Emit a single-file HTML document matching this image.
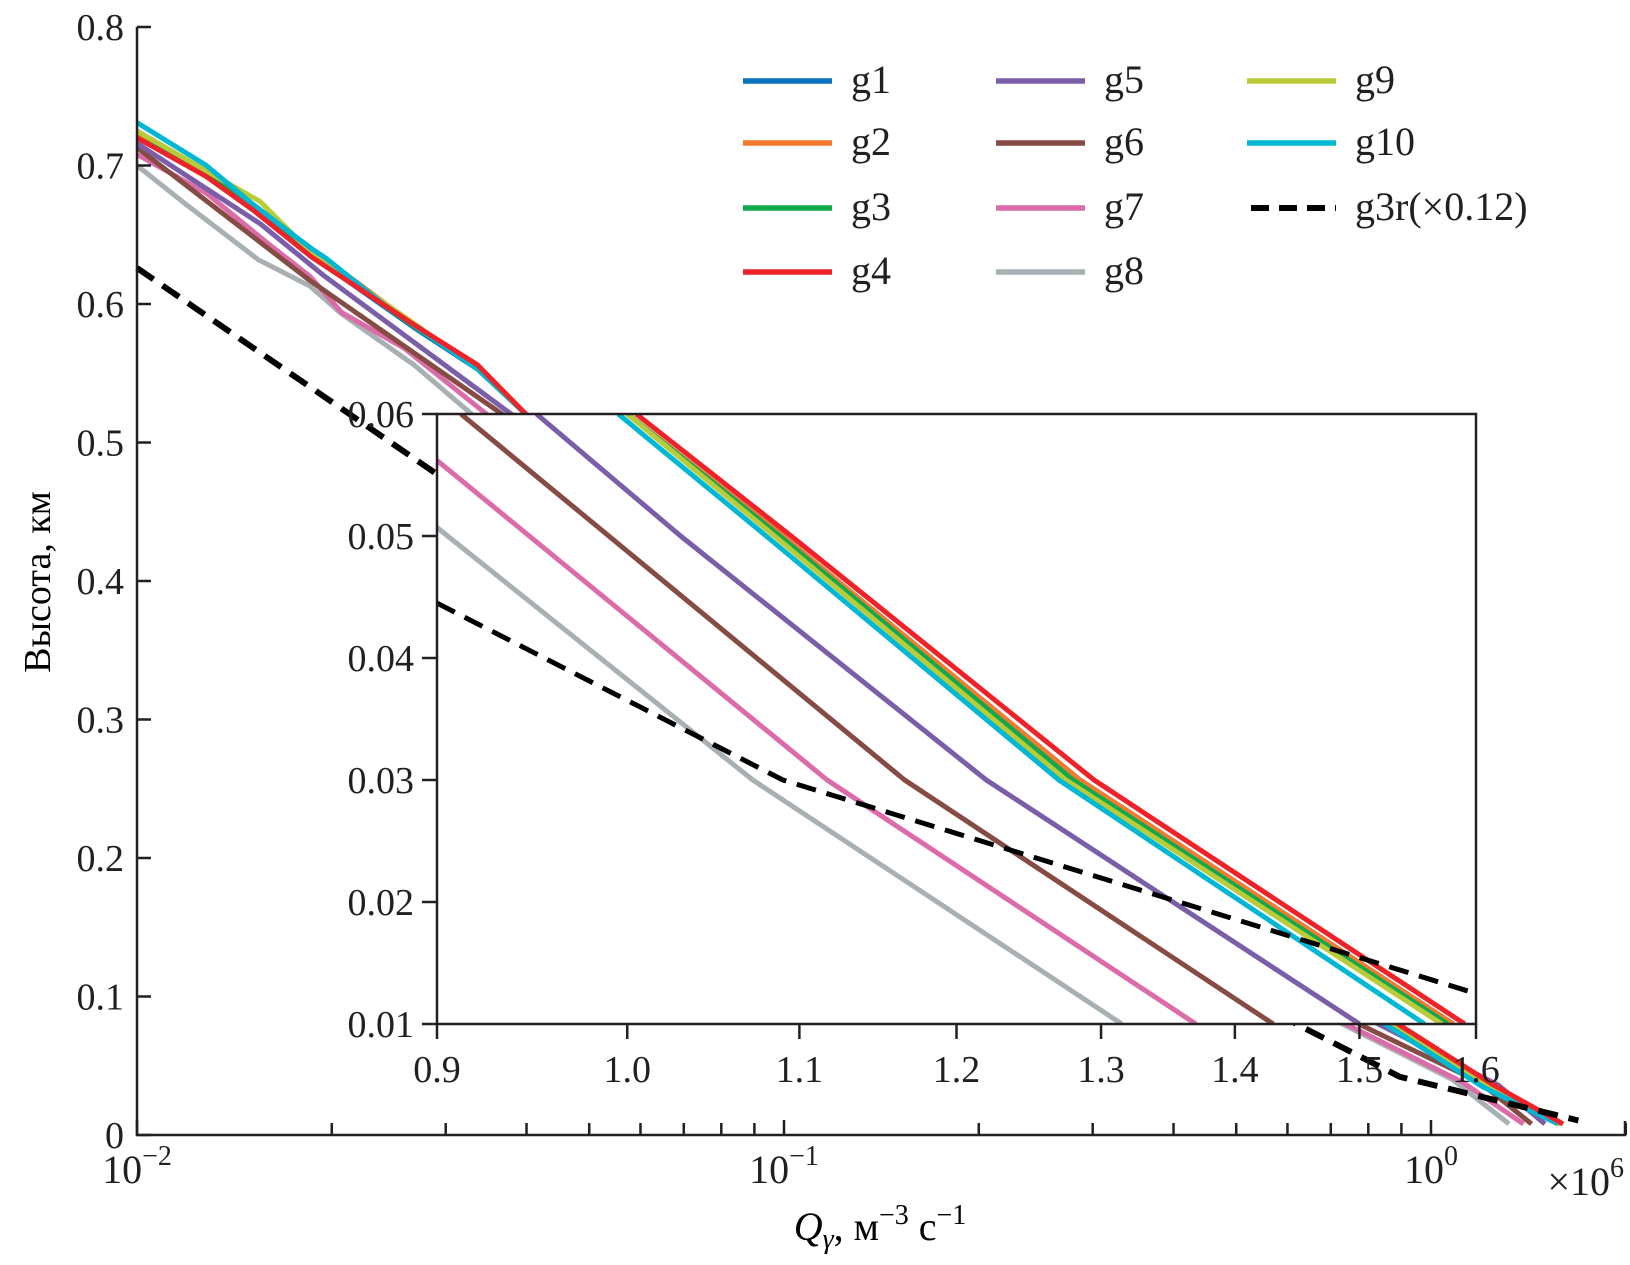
<!DOCTYPE html>
<html><head><meta charset="utf-8"><style>
html,body{margin:0;padding:0;background:#fff}
svg{display:block;font-family:"Liberation Serif",serif}
</style></head><body>
<svg id="chart" width="1630" height="1265" viewBox="0 0 1630 1265" xmlns="http://www.w3.org/2000/svg">
<g id="main-marks"></g>
<rect x="437" y="414" width="1039" height="610" fill="#fff"/>
<g id="inset-marks"></g>
<g id="axes"></g>
<g id="legend"></g>
<text transform="translate(50,582) rotate(-90)" text-anchor="middle" font-size="38">Высота, км</text>
<text x="880" y="1240" text-anchor="middle" font-size="40"><tspan font-style="italic">Q</tspan><tspan font-size="28" dy="8" font-style="italic">γ</tspan><tspan dy="-8">, м</tspan><tspan font-size="28" dy="-16">−3</tspan><tspan dy="16"> с</tspan><tspan font-size="28" dy="-16">−1</tspan></text>
</svg>
<script>
// ---- data ----
const seriesNames = ["g1","g2","g3","g4","g5","g6","g7","g8","g9","g10"];
const seriesColors = ["#0a72bd","#f47a30","#12a84c","#ee2229","#7a5ea8","#864b43","#dc6ba9","#a9b0b3","#b9cb38","#00b8d4"];
// main chart: Q values and heights per series
const mainQ_g1 = [0.01,0.0128,0.0151,0.0186,0.0268,0.0336,0.040,0.86,1.2,1.58];
const mainH_g1 = [0.720,0.693,0.670,0.635,0.583,0.553,0.520,0.080,0.036,0.008];
const mainQ_g2 = [0.01,0.0128,0.0151,0.0186,0.0268,0.0336,0.040,0.87,1.22,1.59];
const mainH_g2 = [0.722,0.695,0.672,0.640,0.585,0.555,0.520,0.080,0.036,0.008];
const mainQ_g3 = [0.01,0.0128,0.0151,0.0186,0.0268,0.0336,0.040,0.86,1.2,1.58];
const mainH_g3 = [0.720,0.694,0.671,0.636,0.584,0.554,0.520,0.080,0.036,0.008];
const mainQ_g4 = [0.01,0.0128,0.0151,0.0186,0.0268,0.0336,0.040,0.89,1.25,1.60];
const mainH_g4 = [0.720,0.692,0.668,0.634,0.585,0.556,0.520,0.080,0.036,0.008];
const mainQ_g5 = [0.01,0.0155,0.0195,0.038,0.83,1.27,1.50];
const mainH_g5 = [0.716,0.658,0.620,0.520,0.080,0.036,0.008];
const mainQ_g6 = [0.01,0.0185,0.0368,0.775,1.19,1.43];
const mainH_g6 = [0.713,0.617,0.520,0.080,0.038,0.008];
const mainQ_g7 = [0.01,0.0128,0.016,0.0185,0.0207,0.0259,0.0348,0.74,1.12,1.39];
const mainH_g7 = [0.708,0.680,0.643,0.620,0.594,0.568,0.520,0.080,0.038,0.008];
const mainQ_g8 = [0.01,0.0119,0.0154,0.0185,0.0207,0.0268,0.033,0.73,1.08,1.32];
const mainH_g8 = [0.700,0.672,0.632,0.613,0.593,0.556,0.520,0.080,0.040,0.008];
const mainQ_g9 = [0.01,0.0128,0.0155,0.0186,0.0268,0.0336,0.040,0.87,1.22,1.58];
const mainH_g9 = [0.725,0.696,0.674,0.637,0.586,0.553,0.520,0.080,0.036,0.008];
const mainQ_g10 = [0.01,0.0128,0.0151,0.0186,0.0196,0.024,0.0336,0.040,0.85,1.2,1.57];
const mainH_g10 = [0.731,0.700,0.672,0.640,0.633,0.600,0.553,0.520,0.080,0.035,0.008];
const mainQ_g3r = [0.01,0.0289,0.62,0.895,1.69];
const mainH_g3r = [0.626,0.478,0.080,0.042,0.0105];
// inset
const insetQ_g1 = [1.0,1.09,1.285,1.58];   const insetH_g1 = [0.06,0.05,0.03,0.01];
const insetQ_g2 = [1.0,1.09,1.285,1.58];   const insetH_g2 = [0.06,0.05,0.03,0.01];
const insetQ_g3 = [1.0,1.088,1.28,1.575];  const insetH_g3 = [0.06,0.05,0.03,0.01];
const insetQ_g4 = [1.005,1.095,1.295,1.59]; const insetH_g4 = [0.06,0.05,0.03,0.01];
const insetQ_g5 = [0.951,1.03,1.22,1.50];  const insetH_g5 = [0.06,0.05,0.03,0.01];
const insetQ_g6 = [0.912,1.166,1.43];      const insetH_g6 = [0.06,0.03,0.01];
const insetQ_g7 = [0.90,1.117,1.37];       const insetH_g7 = [0.0562,0.03,0.01];
const insetQ_g8 = [0.90,1.072,1.315];      const insetH_g8 = [0.0507,0.03,0.01];
const insetQ_g9 = [1.0,1.085,1.275,1.57];  const insetH_g9 = [0.06,0.05,0.03,0.01];
const insetQ_g10 = [0.995,1.08,1.27,1.555]; const insetH_g10 = [0.06,0.05,0.03,0.01];
const insetQ_g3r = [0.90,1.09,1.60];       const insetH_g3r = [0.0445,0.03,0.0125];
const mainYTicks = [0,0.1,0.2,0.3,0.4,0.5,0.6,0.7,0.8];
const mainYTickLabels = ["0","0.1","0.2","0.3","0.4","0.5","0.6","0.7","0.8"];
const insetXTicks = [0.9,1.0,1.1,1.2,1.3,1.4,1.5,1.6];
const insetXTickLabels = ["0.9","1.0","1.1","1.2","1.3","1.4","1.5","1.6"];
const insetYTicks = [0.01,0.02,0.03,0.04,0.05,0.06];
const insetYTickLabels = ["0.01","0.02","0.03","0.04","0.05","0.06"];

// ---- scales ----
const mx = q => 137 + (Math.log10(q) + 2) * 647;
const my = h => 1135 - h / 0.8 * 1108;
const ix = q => 437 + (Math.log10(q) - Math.log10(0.9)) / (Math.log10(1.6) - Math.log10(0.9)) * 1039;
const iy = h => 1024 - (h - 0.01) / 0.05 * 610;
const NS = "http://www.w3.org/2000/svg";
function mk(tag, attrs, parent) {
  const e = document.createElementNS(NS, tag);
  for (const k in attrs) e.setAttribute(k, attrs[k]);
  parent.appendChild(e); return e;
}
const svg = document.getElementById('chart');
const defs = mk('defs', {}, svg);
const cp = mk('clipPath', {id: 'insetClip'}, defs);
mk('rect', {x: 437, y: 414, width: 1039, height: 610}, cp);

const mainQ = [mainQ_g1,mainQ_g2,mainQ_g3,mainQ_g4,mainQ_g5,mainQ_g6,mainQ_g7,mainQ_g8,mainQ_g9,mainQ_g10];
const mainH = [mainH_g1,mainH_g2,mainH_g3,mainH_g4,mainH_g5,mainH_g6,mainH_g7,mainH_g8,mainH_g9,mainH_g10];
const insetQ = [insetQ_g1,insetQ_g2,insetQ_g3,insetQ_g4,insetQ_g5,insetQ_g6,insetQ_g7,insetQ_g8,insetQ_g9,insetQ_g10];
const insetH = [insetH_g1,insetH_g2,insetH_g3,insetH_g4,insetH_g5,insetH_g6,insetH_g7,insetH_g8,insetH_g9,insetH_g10];
const order = [7,6,5,4,0,1,2,8,9,3];
const gm = document.getElementById('main-marks');
const gi = document.getElementById('inset-marks');
gi.setAttribute('clip-path', 'url(#insetClip)');
function pts(Q, H, fx, fy) { return Q.map((q, i) => fx(q).toFixed(1) + ',' + fy(H[i]).toFixed(1)).join(' '); }
order.forEach(s => {
  const p = mk('polyline', {points: pts(mainQ[s], mainH[s], mx, my), fill: 'none', stroke: seriesColors[s], 'stroke-width': 5, 'stroke-linejoin': 'round'}, gm);
  
  
});
const dm = mk('polyline', {points: pts(mainQ_g3r, mainH_g3r, mx, my), fill: 'none', stroke: '#000', 'stroke-width': 6, 'stroke-dasharray': '20 11'}, gm);


order.forEach(s => {
  const p = mk('polyline', {points: pts(insetQ[s], insetH[s], ix, iy), fill: 'none', stroke: seriesColors[s], 'stroke-width': 5, 'stroke-linejoin': 'round'}, gi);
  
  
});
const di = mk('polyline', {points: pts(insetQ_g3r, insetH_g3r, ix, iy), fill: 'none', stroke: '#000', 'stroke-width': 5, 'stroke-dasharray': '20 11'}, gi);



// ---- axes ----
const ga = document.getElementById('axes');
const ax = {stroke: '#231f20', 'stroke-width': 2.5, fill: 'none'};
const ya = mk('path', Object.assign({d: 'M137,27 V1135 H1625 V1121'}, ax), ga);


mainYTicks.forEach((v, i) => {
  const y = my(v);
  mk('line', Object.assign({x1: 137, x2: 151, y1: y, y2: y}, ax), ga);
  const t = mk('text', {x: 124, y: y + 13, 'text-anchor': 'end', 'font-size': 38, fill: '#231f20'}, ga);
  t.textContent = mainYTickLabels[i];
  
  
});
for (let d = -2; d <= 0; d++) for (let m = 1; m <= 9; m++) {
  const q = m * Math.pow(10, d); if (q > 2) break;
  const x = mx(q);
  mk('line', Object.assign({x1: x, x2: x, y1: 1135, y2: m === 1 ? 1120 : 1123}, ax), ga);
}
[["10","−2",-2],["10","−1",-1],["10","0",0]].forEach(([b, e, d]) => {
  const t = mk('text', {x: mx(Math.pow(10, d)), y: 1183, 'text-anchor': 'middle', 'font-size': 40, fill: '#231f20'}, ga);
  
  
  const s1 = mk('tspan', {}, t); s1.textContent = b;
  const s2 = mk('tspan', {'font-size': 28, dy: -18}, t); s2.textContent = e;
});
const mul = mk('text', {x: 1624, y: 1195, 'text-anchor': 'end', 'font-size': 40, fill: '#231f20'}, ga);


mul.innerHTML = '×10<tspan font-size="28" dy="-18">6</tspan>';

// inset axes
const ib = mk('rect', Object.assign({x: 437, y: 414, width: 1039, height: 610}, ax), ga);


insetYTicks.forEach((v, i) => {
  const y = iy(v);
  mk('line', Object.assign({x1: 422, x2: 437, y1: y, y2: y}, ax), ga);
  const t = mk('text', {x: 414, y: y + 13, 'text-anchor': 'end', 'font-size': 38, fill: '#231f20'}, ga);
  t.textContent = insetYTickLabels[i];
  
  
});
insetXTicks.forEach((v, i) => {
  const x = ix(v);
  mk('line', Object.assign({x1: x, x2: x, y1: 1024, y2: 1039}, ax), ga);
  const t = mk('text', {x: x, y: 1082, 'text-anchor': 'middle', 'font-size': 38, fill: '#231f20'}, ga);
  t.textContent = insetXTickLabels[i];
  
  
});

// ---- legend ----
const gl = document.getElementById('legend');
const colX = [743, 996, 1247];
const rowY = [81, 143, 208, 272];
const legendNames = seriesNames.concat(["g3r(×0.12)"]);
legendNames.forEach((n, i) => {
  const c = Math.floor(i / 4), r = i % 4;
  const g = mk('g', {}, gl);
  
  
  const dashed = i === 10;
  mk('line', {x1: colX[c] + (dashed ? 4 : 0), x2: colX[c] + 89, y1: rowY[r], y2: rowY[r], stroke: dashed ? '#000' : seriesColors[i], 'stroke-width': dashed ? 6 : 5.5, 'stroke-dasharray': dashed ? '18 10' : 'none'}, g);
  const t = mk('text', {x: colX[c] + 108, y: rowY[r] + 12, 'font-size': 40, fill: '#231f20'}, g);
  t.textContent = n;
});
</script>
</body></html>
